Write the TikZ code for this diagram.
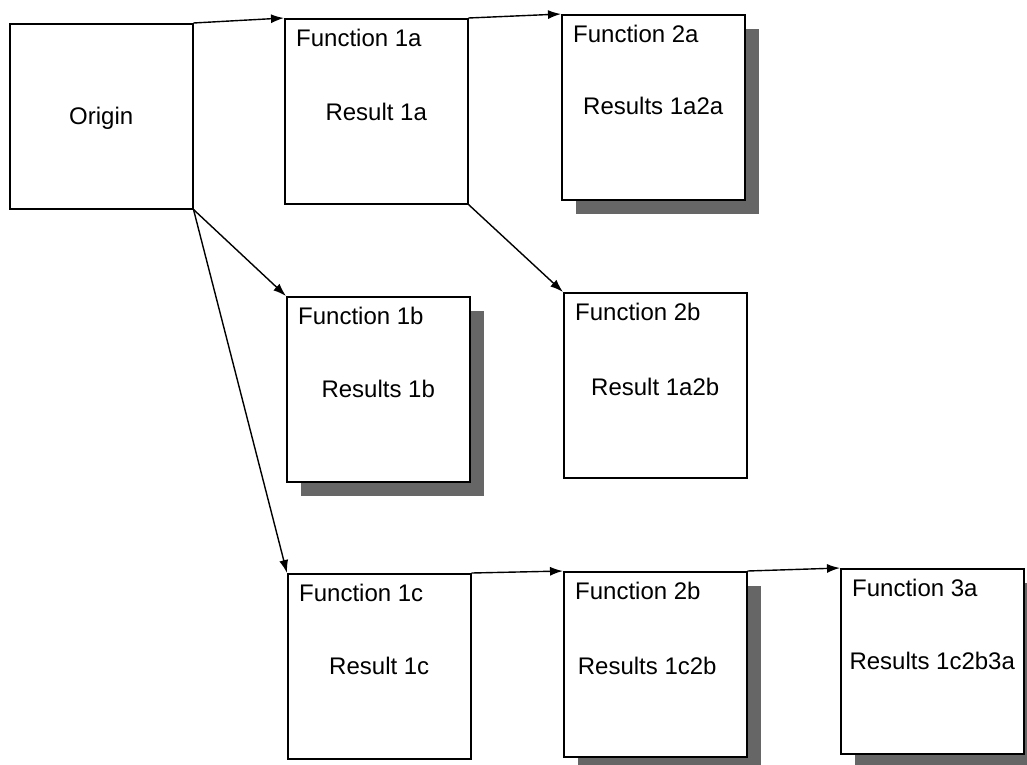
\documentclass[tikz,border=0pt]{standalone}
\usepackage{fontspec}
\setmainfont{Liberation Sans}
\usetikzlibrary{calc,shadows,arrows.meta}
\begin{document}
\begin{tikzpicture}[x=1pt,y=-1pt,
  box/.style={draw=black, line width=1.5pt, fill=white, rectangle, inner sep=0pt,
    minimum width=183pt, minimum height=185pt, anchor=north west},
  shbox/.style={box, general shadow={shadow xshift=14pt, shadow yshift=-14pt, fill=black!60, opacity=1}},
  title/.style={anchor=west, inner sep=0pt, font=\fontsize{24}{28}\selectfont},
  body/.style={inner sep=0pt, font=\fontsize{24}{28}\selectfont},
  conn/.style={line width=1.4pt, -{Latex[length=13pt,width=9pt]}}]
\clip (0,0) rectangle (1027,764);
\fill[white] (0,0) rectangle (1027,764);
% boxes
\node[box]   (o)   at (9,23)   {};
\node[box]   (f1a) at (284,18) {};
\node[shbox] (f2a) at (561,14) {};
\node[shbox] (f1b) at (286,296) {};
\node[box]   (f2b) at (563,292) {};
\node[box]   (f1c) at (287,573) {};
\node[shbox] (f2c) at (563,571) {};
\node[shbox] (f3a) at (840,568) {};
% texts
\node[body] (o-b) at ($(o.center)+(0,2)$) {Origin};
\node[title] (f1a-t) at ($(f1a.north west)+(12,20)$) {Function 1a};
\node[body]  (f1a-b) at ($(f1a.center)+(0,1)$) {Result 1a};
\node[title] (f2a-t) at ($(f2a.north west)+(12,20)$) {Function 2a};
\node[body]  (f2a-b) at ($(f2a.center)+(0,-1)$) {Results 1a2a};
\node[title] (f1b-t) at ($(f1b.north west)+(12,20)$) {Function 1b};
\node[body]  (f1b-b) at ($(f1b.center)+(0,0)$) {Results 1b};
\node[title] (f2b-t) at ($(f2b.north west)+(12,20)$) {Function 2b};
\node[body]  (f2b-b) at ($(f2b.center)+(0,2)$) {Result 1a2b};
\node[title] (f1c-t) at ($(f1c.north west)+(12,20)$) {Function 1c};
\node[body]  (f1c-b) at ($(f1c.center)+(0,0)$) {Result 1c};
\node[title] (f2c-t) at ($(f2c.north west)+(12,20)$) {Function 2b};
\node[body]  (f2c-b) at ($(f2c.center)+(-8,2)$) {Results 1c2b};
\node[title] (f3a-t) at ($(f3a.north west)+(12,20)$) {Function 3a};
\node[body]  (f3a-b) at ($(f3a.center)+(0,0)$) {Results 1c2b3a};
% connectors
\draw[conn] (o.north east) -- (f1a.north west);
\draw[conn] (f1a.north east) -- (f2a.north west);
\draw[conn] (o.south east) -- (f1b.north west);
\draw[conn] (o.south east) -- (f1c.north west);
\draw[conn] (f1a.south east) -- (f2b.north west);
\draw[conn] (f1c.north east) -- (f2c.north west);
\draw[conn] (f2c.north east) -- (f3a.north west);
\end{tikzpicture}
\end{document}
